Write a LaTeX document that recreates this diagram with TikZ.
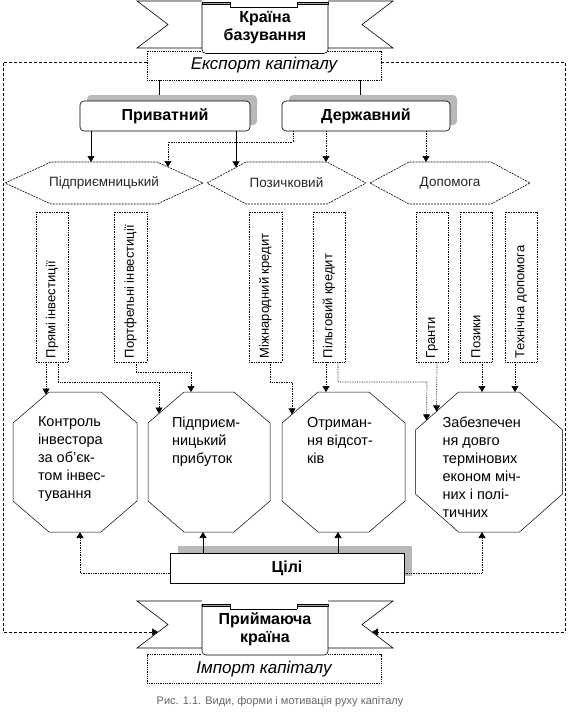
\documentclass[tikz,border=0pt]{standalone}
\usepackage{fontspec}
\setmainfont{Liberation Sans}
\usetikzlibrary{arrows.meta,calc,shadows}
\newcommand{\hexof}[2]{%
  \draw[hexline] (#1.west) -- ($(#1.north west)+(#2,0)$) -- ($(#1.north east)+(-#2,0)$) -- (#1.east)
    -- ($(#1.south east)+(-#2,0)$) -- ($(#1.south west)+(#2,0)$) -- cycle;}
\newcommand{\octof}[3]{%
  \draw[octline] ($(#1.north west)+(#2,0)$) -- ($(#1.north east)+(-#2,0)$)
    -- ($(#1.north east)+(0,#3)$) -- ($(#1.south east)+(0,-#3)$)
    -- ($(#1.south east)+(-#2,0)$) -- ($(#1.south west)+(#2,0)$)
    -- ($(#1.south west)+(0,-#3)$) -- ($(#1.north west)+(0,#3)$) -- cycle;}
\newcommand{\bandat}[1]{%
  \draw[bandline] (202,#1) -- (137,#1) -- (168,{#1+23.5}) -- (137,{#1+47}) -- (202,{#1+47});
  \draw[bandline] (328,#1) -- (393,#1) -- (362,{#1+23.5}) -- (393,{#1+47}) -- (328,{#1+47});}
\newcommand{\panelof}[1]{%
  \draw[bandline,rounded corners=4pt] ($(#1.north west)+(0,1)$) -- (#1.south west) -- (#1.south east) -- ($(#1.north east)+(0,1)$);
  \draw[bandline] ($(#1.north west)+(28,6)$) -- ($(#1.north east)+(-31,6)$);
  \draw[bandline] ($(#1.north west)+(28,3)$) -- ($(#1.north west)+(28,6)$);
  \draw[bandline] ($(#1.north east)+(-31,3)$) -- ($(#1.north east)+(-31,6)$);
  \filldraw[bandline,fill=black!35] ($(#1.north west)+(0,1)$) rectangle ($(#1.north west)+(28,3)$);
  \filldraw[bandline,fill=black!35] ($(#1.north east)+(0,1)$) rectangle ($(#1.north east)+(-31,3)$);}
\begin{document}
\begin{tikzpicture}[x=1pt,y=-1pt,
  every node/.style={inner sep=0pt, outer sep=0pt},
  tip/.style={-{Triangle[width=7pt,length=6pt]}},
  solidc/.style={line width=0.6pt},
  dotc/.style={line width=0.7pt, densely dotted},
  framec/.style={line width=0.6pt, dash pattern=on 3pt off 2pt},
  bandline/.style={line width=0.6pt},
  hexline/.style={line width=0.6pt, dash pattern=on 2pt off 1pt},
  octline/.style={line width=0.5pt},
  titlef/.style={font=\fontsize{16}{18}\selectfont\bfseries},
  panelnode/.style={titlef, align=center, minimum width=126, minimum height=52, fill=white},
  capbox/.style={draw, line width=0.8pt, densely dotted, fill=white, minimum width=234, minimum height=29, font=\fontsize{17}{20}\selectfont\itshape},
  kindbox/.style={draw, line width=0.6pt, rounded corners=4pt, fill=white, minimum height=30, titlef,
     drop shadow={shadow xshift=7pt, shadow yshift=6pt, fill=black!28, opacity=1}},
  goalbox/.style={draw, line width=0.6pt, fill=white, minimum height=30, minimum width=234, titlef,
     drop shadow={shadow xshift=8pt, shadow yshift=7pt, fill=black!28, opacity=1}},
  hexnode/.style={minimum height=42, font=\fontsize{13.5}{15}\selectfont, text=black!85},
  vbox/.style={draw, dotc, minimum width=32, minimum height=150},
  vtext/.style={rotate=90, anchor=west, font=\fontsize{13}{15}\selectfont},
  octnode/.style={minimum height=140},
  octtext/.style={anchor=north west, align=left, font=\fontsize{14.5}{18}\selectfont},
]
\useasboundingbox (0,0) rectangle (568,712);

% capital boxes
\node[capbox] (ex) at (264,65.5) {Експорт капіталу};
\node[capbox] (im) at (264,669) {Імпорт капіталу};

% frame to receiving country
\coordinate (rl) at (158,632);
\coordinate (rr) at (372,632);
\draw[framec,tip] (ex.west |- 0,62) -- (3,62) -- (3,632) -- (rl);
\draw[framec,tip] (ex.east |- 0,62) -- (565,62) -- (565,632) -- (rr);

% ribbons
\bandat{1}
\node[panelnode] (kb) at (265,27.5) {Країна\\базування};
\panelof{kb}
\bandat{601}
\node[panelnode] (pk) at (265,629) {Приймаюча\\країна};
\panelof{pk}

% kinds
\node[kindbox, minimum width=170] (pr) at (165,116) {Приватний};
\node[kindbox, minimum width=168] (dz) at (366,116) {Державний};
\draw[solidc] (159,0 |- ex.south) -- ($(159,0 |- pr.north)+(0,-6)$);
\draw[solidc] (360,0 |- ex.south) -- ($(360,0 |- dz.north)+(0,-6)$);

% forms (hexagons)
\node[hexnode, minimum width=198] (h1) at (104,183) {Підприємницький};
\hexof{h1}{46}
\node[hexnode, minimum width=159] (h2) at (286.5,183) {Позичковий};
\hexof{h2}{39}
\node[hexnode, minimum width=160] (h3) at (450,183) {Допомога};
\hexof{h3}{39}

\draw[solidc,tip] (91,0 |- pr.south) -- (91,0 |- h1.north);
\draw[solidc,tip] (236,0 |- pr.south) -- ($(h2.north west)+(29,5.4)$);
\draw[dotc,tip] (293,0 |- dz.south) -- (293,142) -- (168,142) -- ($(h1.north east)+(-35,5)$);
\draw[dotc,tip] (326,0 |- dz.south) -- (326,0 |- h2.north);
\draw[dotc,tip] (426,0 |- dz.south) -- (426,0 |- h3.north);

% vertical boxes
\node[vbox] (v1) at (52,287) {};
\node[vtext] (v1t) at ($(v1.south)+(0,-4)$) {Прямі інвестиції};
\node[vbox, minimum width=33] (v2) at (130.5,287) {};
\node[vtext] (v2t) at ($(v2.south)+(0,-4)$) {Портфельні інвестиції};
\node[vbox, minimum width=33] (v3) at (265.5,287) {};
\node[vtext] (v3t) at ($(v3.south)+(0,-4)$) {Міжнародний кредит};
\node[vbox] (v4) at (329,287) {};
\node[vtext] (v4t) at ($(v4.south)+(0,-4)$) {Пільговий кредит};
\node[vbox] (v5) at (432,287) {};
\node[vtext] (v5t) at ($(v5.south)+(0,-4)$) {Гранти};
\node[vbox] (v6) at (476,287) {};
\node[vtext] (v6t) at ($(v6.south)+(0,-4)$) {Позики};
\node[vbox] (v7) at (521,287) {};
\node[vtext] (v7t) at ($(v7.south)+(0,-4)$) {Технічна допомога};

% goals (octagons)
\node[octnode, minimum width=124] (o1) at (75,462) {};
\octof{o1}{36}{31}
\node[octtext] (o1t) at ($(o1.north west)+(25,25)$) {Контроль\\інвестора\\за об’єк-\\том інвес-\\тування};
\node[octnode, minimum width=122] (o2) at (209,462) {};
\octof{o2}{36}{31}
\node[octtext] (o2t) at ($(o2.north west)+(24,25)$) {Підприєм-\\ницький\\прибуток};
\node[octnode, minimum width=123] (o3) at (343.5,462) {};
\octof{o3}{36}{31}
\node[octtext] (o3t) at ($(o3.north west)+(25,25)$) {Отриман-\\ня відсот-\\ків};
\node[octnode, minimum width=147] (o4) at (489,462) {};
\octof{o4}{43}{38}
\node[octtext] (o4t) at ($(o4.north west)+(27,25)$) {Забезпечен\\ня довго\\термінових\\економ міч-\\них і полі-\\тичних};

\draw[dotc,tip] (46,0 |- v1.south) -- ($(o1.north west)+(33,2.6)$);
\draw[dotc,tip] (58,0 |- v1.south) -- (58,382) -- (159,382) -- ($(o2.north west)+(11,21.5)$);
\draw[dotc,tip] (136,0 |- v2.south) -- (136,372) -- (191,372) -- (191,0 |- o2.north);
\draw[dotc,tip] (270,0 |- v3.south) -- (270,382) -- (292,382) -- ($(o3.north west)+(10,22.4)$);
\draw[dotc,tip] (326,0 |- v4.south) -- (326,0 |- o3.north);
\draw[dotc,tip] (338,0 |- v4.south) -- (338,382) -- (427,382) -- ($(o4.north west)+(11,28.3)$);
\draw[dotc,tip] (437,0 |- v5.south) -- ($(o4.north west)+(21,19.4)$);
\draw[dotc,tip] (482,0 |- v6.south) -- (482,0 |- o4.north);
\draw[dotc,tip] (515,0 |- v7.south) -- (515,0 |- o4.north);

% aims box
\node[goalbox] (ci) at (287,568) {Цілі};
\draw[solidc,tip] (203,0 |- ci.north) -- (203,0 |- o2.south);
\draw[solidc,tip] (338,0 |- ci.north) -- (338,0 |- o3.south);
\draw[dotc,tip] ($(ci.west)+(0,5)$) -| (80,0 |- o1.south);
\draw[dotc,tip] ($(ci.east)+(0,5)$) -| (482,0 |- o4.south);

% caption
\node[font=\fontsize{11}{13}\selectfont, text=black!60] (cap) at (280,702) {Рис. 1.1. Види, форми і мотивація руху капіталу};
\end{tikzpicture}
\end{document}
